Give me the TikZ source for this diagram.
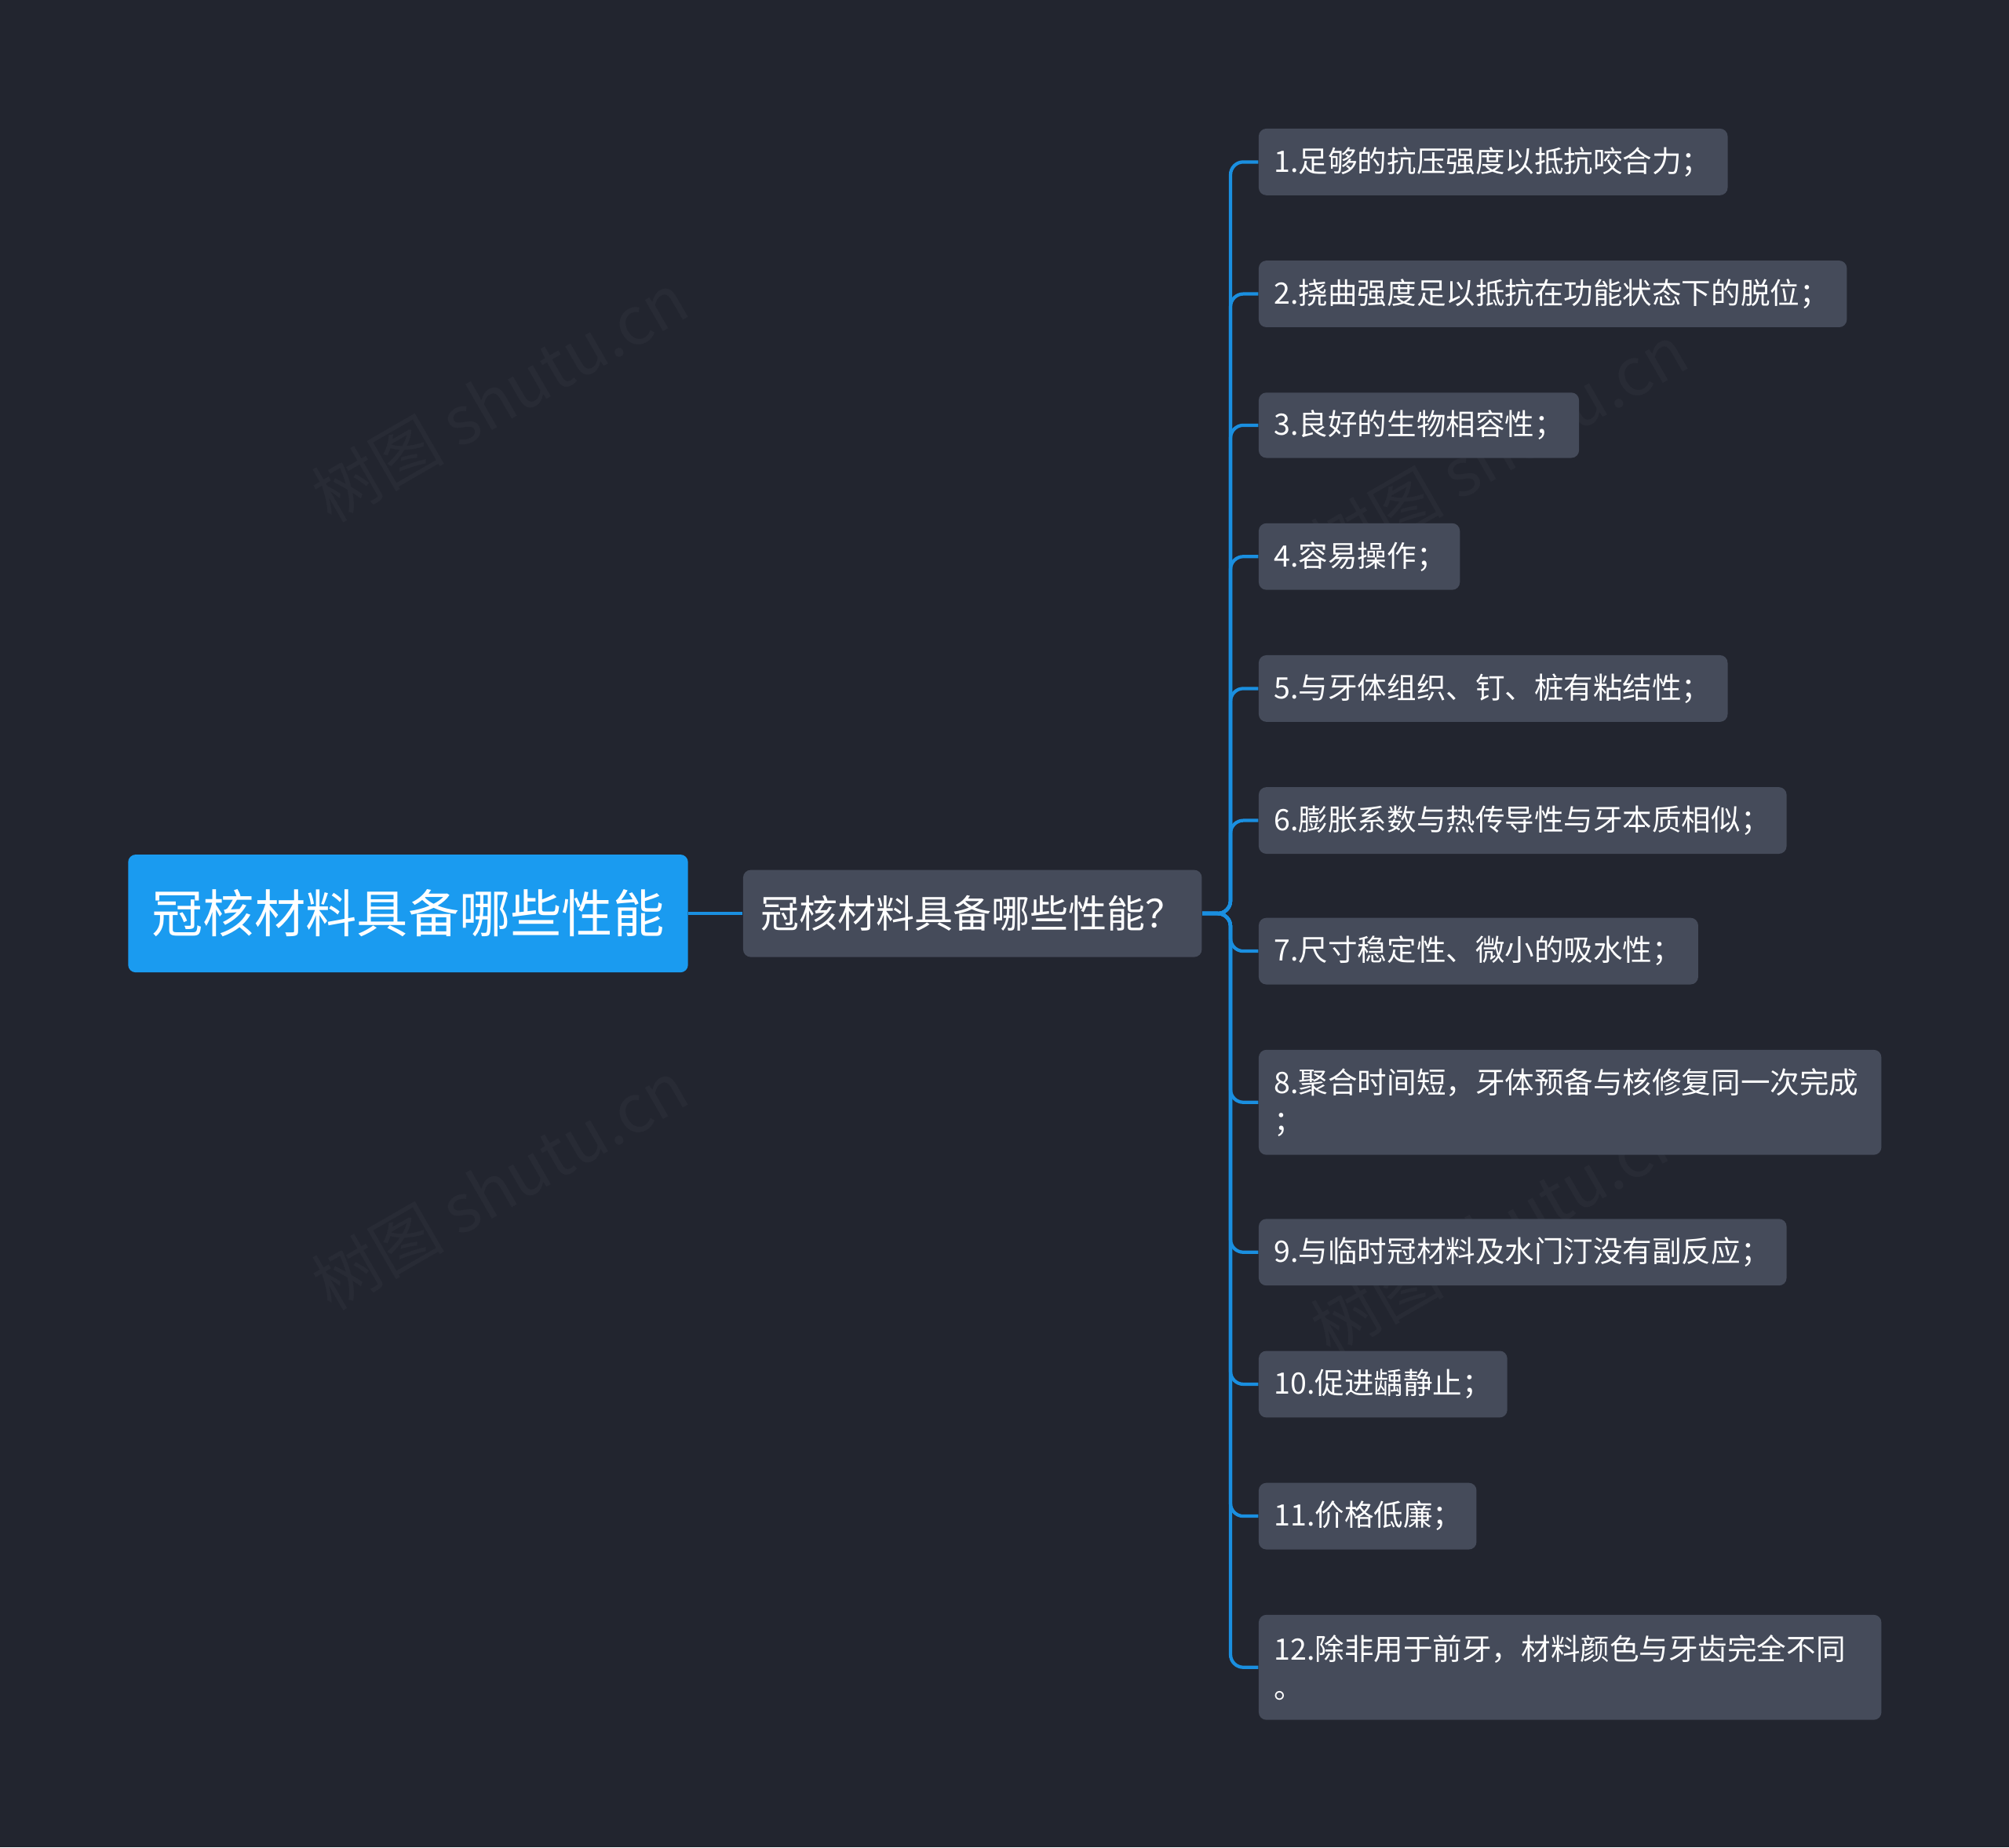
\documentclass[tikz,border=0pt]{standalone}
\usepackage{fontspec}
\setmainfont{Noto Sans CJK SC}
\definecolor{bg}{HTML}{22252F}
\definecolor{leaf}{HTML}{454B5A}
\definecolor{rootc}{HTML}{1A9BF0}
\definecolor{linec}{HTML}{1A8FE0}
\definecolor{wm}{HTML}{282B35}
\begin{document}
\begin{tikzpicture}[x=0.5pt,y=-0.5pt,
  leafbox/.style={fill=leaf,rounded corners=3pt,text=white,font=\fontsize{11.5pt}{15pt}\selectfont,anchor=north west,align=left,inner xsep=6pt,inner ysep=0pt},
  conn/.style={draw=linec,line width=1.3pt,rounded corners=5pt}]
\fill[bg] (0,0) rectangle (1568,1442);
\useasboundingbox (0,0) rectangle (1568,1442);
\foreach \x/\y in {390/310,390/925,1170/350,1170/960}
  \node[rotate=30,text=wm,font=\fontsize{26pt}{30pt}\selectfont] at (\x,\y) {树图 shutu.cn};
\node[fill=rootc,rounded corners=3pt,text=white,font=\fontsize{20pt}{24pt}\selectfont,minimum width=437*0.5pt,minimum height=92*0.5pt,inner sep=0pt] (root) at (318.5,713) {冠核材料具备哪些性能};
\node[fill=leaf,rounded corners=3pt,text=white,font=\fontsize{15pt}{18pt}\selectfont,minimum width=358*0.5pt,minimum height=68*0.5pt,inner sep=0pt] (mid) at (759,713) {冠核材料具备哪些性能？};
\draw[conn] (root.east) -- (mid.west);
\foreach \i/\t/\b/\r/\txt in {
 1/100/152/1348/{1.足够的抗压强度以抵抗咬合力；},
 2/203/255/1441/{2.挠曲强度足以抵抗在功能状态下的脱位；},
 3/306/357/1232/{3.良好的生物相容性；},
 4/408/460/1139/{4.容易操作；},
 5/511/563/1348/{5.与牙体组织、钉、桩有粘结性；},
 6/614/666/1394/{6.膨胀系数与热传导性与牙本质相似；},
 7/716/768/1325/{7.尺寸稳定性、微小的吸水性；},
 8/819/901/1468/{8.聚合时间短，牙体预备与核修复同一次完成\\；},
 9/951/1003/1394/{9.与临时冠材料及水门汀没有副反应；},
 10/1054/1106/1176/{10.促进龋静止；},
 11/1157/1209/1152/{11.价格低廉；},
 12/1260/1342/1468/{12.除非用于前牙，材料颜色与牙齿完全不同\\。}}
{
 \pgfmathsetmacro\w{(\r-982)*0.5}
 \pgfmathsetmacro\h{(\b-\t)*0.5}
 \node[leafbox,minimum width=\w pt,minimum height=\h pt,text width=\w pt-12pt] (l\i) at (982,\t) {\txt};
 \draw[conn] (mid.east) -- ++(22,0) |- (l\i.west);
}
\end{tikzpicture}
\end{document}
